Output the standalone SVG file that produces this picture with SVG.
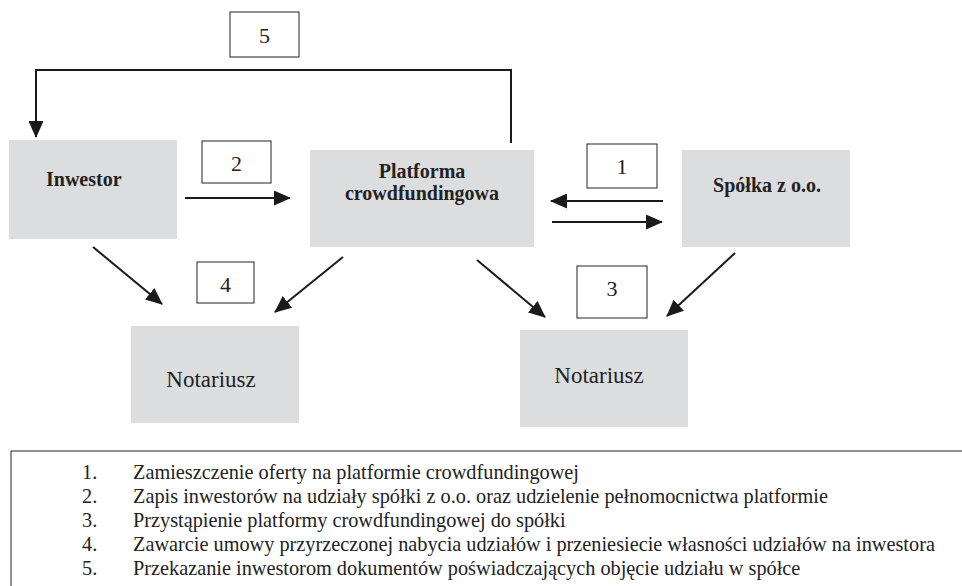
<svg xmlns="http://www.w3.org/2000/svg" width="962" height="586" viewBox="0 0 962 586">
<style>
.node{fill:#dcdddf}
.lbl{fill:#fff;stroke:#222;stroke-width:1}
text{font-family:'Liberation Serif','Times New Roman','DejaVu Serif',serif;fill:#222}
.b{font-weight:bold;font-size:20px}
.n{font-size:23px}
.num{font-size:22px}
.leg{font-size:20.3px}
.c{stroke:#1a1a1a;stroke-width:2;fill:none}
</style>
<defs>
<marker id="ah" markerWidth="17" markerHeight="15" refX="16" refY="7.5" orient="auto" markerUnits="userSpaceOnUse">
<path d="M0,0 L17,7.5 L0,15 Z" fill="#1a1a1a"/>
</marker>
</defs>
<rect width="962" height="586" fill="#fff"/>
<g id="inwestor">
<rect class="node" x="9" y="140" width="168" height="99"/>
<text class="b" x="46" y="186">Inwestor</text>
</g>
<g id="platforma">
<rect class="node" x="310" y="150" width="224" height="97"/>
<text class="b" x="422" y="178" text-anchor="middle">Platforma</text>
<text class="b" x="422" y="200" text-anchor="middle">crowdfundingowa</text>
</g>
<g id="spolka">
<rect class="node" x="682" y="150" width="168" height="97"/>
<text class="b" x="767" y="192" text-anchor="middle">Spółka z o.o.</text>
</g>
<g id="notariusz1">
<rect class="node" x="131" y="326" width="168" height="97"/>
<text class="n" x="211" y="387" text-anchor="middle">Notariusz</text>
</g>
<g id="notariusz2">
<rect class="node" x="520" y="330" width="168" height="97"/>
<text class="n" x="599" y="383" text-anchor="middle">Notariusz</text>
</g>
<g id="connectors">
<path class="c" d="M511,143 V70 H36 V137" stroke-width="1.5" marker-end="url(#ah)"/>
<line class="c" x1="185" y1="198" x2="290" y2="198" marker-end="url(#ah)"/>
<line class="c" x1="663" y1="201" x2="551" y2="201" marker-end="url(#ah)"/>
<line class="c" x1="552" y1="222" x2="662" y2="222" marker-end="url(#ah)"/>
<line class="c" x1="93" y1="247" x2="162" y2="304" marker-end="url(#ah)"/>
<line class="c" x1="343" y1="257" x2="275" y2="312" marker-end="url(#ah)"/>
<line class="c" x1="477" y1="260" x2="545" y2="317" marker-end="url(#ah)"/>
<line class="c" x1="735" y1="253" x2="667" y2="316" marker-end="url(#ah)"/>
</g>
<g id="label5">
<rect class="lbl" x="230" y="12" width="69" height="45"/>
<text class="num" x="264.5" y="43" text-anchor="middle">5</text>
</g>
<g id="label2">
<rect class="lbl" x="202" y="141" width="69" height="42"/>
<text class="num" x="236.5" y="171" text-anchor="middle">2</text>
</g>
<g id="label1">
<rect class="lbl" x="587" y="144" width="70" height="44"/>
<text class="num" x="622" y="174" text-anchor="middle">1</text>
</g>
<g id="label4">
<rect class="lbl" x="197" y="262" width="57" height="41"/>
<text class="num" x="225.5" y="292" text-anchor="middle">4</text>
</g>
<g id="label3">
<rect class="lbl" x="577" y="266" width="70" height="52"/>
<text class="num" x="612" y="296" text-anchor="middle">3</text>
</g>
<g id="legend">
<rect x="11" y="451" width="970" height="160" fill="none" stroke="#222" stroke-width="1"/>
<text class="leg" x="82" y="479">1.</text>
<text class="leg" x="133" y="479">Zamieszczenie oferty na platformie crowdfundingowej</text>
<text class="leg" x="82" y="503">2.</text>
<text class="leg" x="133" y="503">Zapis inwestorów na udziały spółki z o.o. oraz udzielenie pełnomocnictwa platformie</text>
<text class="leg" x="82" y="527">3.</text>
<text class="leg" x="133" y="527">Przystąpienie platformy crowdfundingowej do spółki</text>
<text class="leg" x="82" y="551">4.</text>
<text class="leg" x="133" y="551">Zawarcie umowy przyrzeczonej nabycia udziałów i przeniesiecie własności udziałów na inwestora</text>
<text class="leg" x="82" y="575">5.</text>
<text class="leg" x="133" y="575">Przekazanie inwestorom dokumentów poświadczających objęcie udziału w spółce</text>
</g>
</svg>
